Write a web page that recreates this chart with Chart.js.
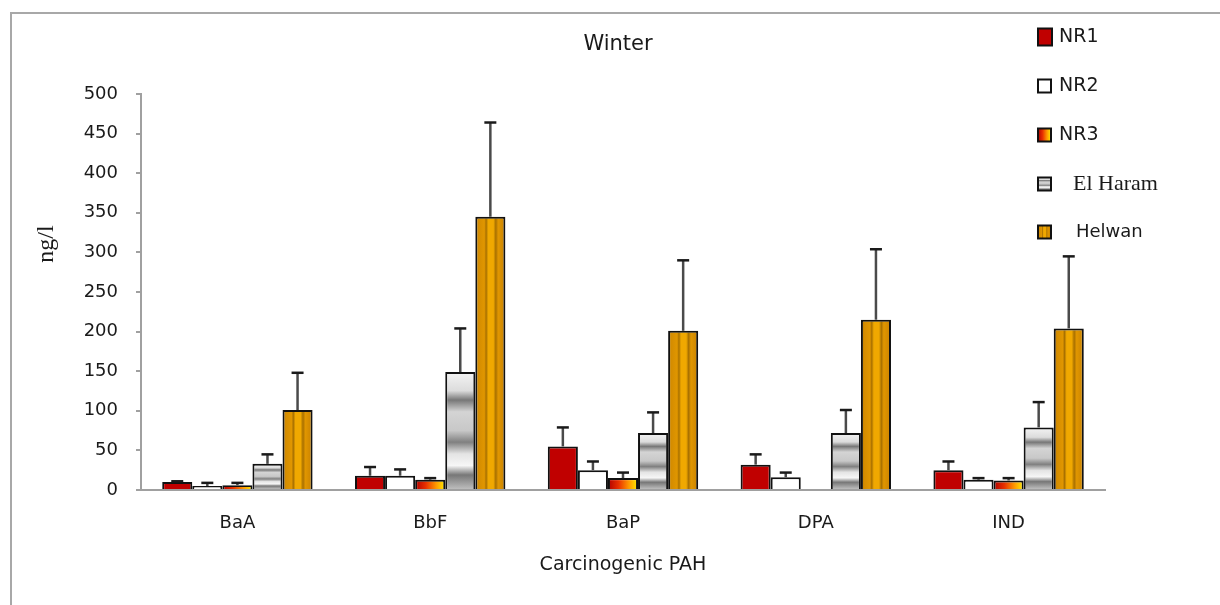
<!DOCTYPE html>
<html>
<head>
<meta charset="utf-8">
<title>Winter - Carcinogenic PAH</title>
<script src="https://cdn.jsdelivr.net/npm/chart.js@4.4.1/dist/chart.umd.min.js"></script>
<style>
  html, body { margin: 0; padding: 0; background: #fff; }
  #wrap { position: relative; width: 1220px; height: 605px; }
</style>
</head>
<body>
<div id="wrap"><canvas id="pahChart" width="1220" height="605"></canvas></div>
<script>
// categories and site names
const categories = ['BaA', 'BbF', 'BaP', 'DPA', 'IND'];
const siteNames = ['NR1', 'NR2', 'NR3', 'El Haram', 'Helwan'];

// mean concentrations (ng/l)
const nr1 = [10, 18, 55, 32, 25];
const nr2 = [5, 18, 25, 16, 13];
const nr3 = [6, 13, 15, 0, 12];
const elHaram = [33, 149, 72, 72, 79];
const helwan = [101, 345, 201, 215, 204];

// upper error bar (standard deviation)
const nr1Err = [1, 11, 24, 13, 11];
const nr2Err = [4, 8, 11, 6, 2];
const nr3Err = [3, 2, 7, 0, 3];
const elHaramErr = [12, 55, 26, 29, 32];
const helwanErr = [47, 119, 89, 89, 91];

// y axis ticks
const yTicks = [0, 50, 100, 150, 200, 250, 300, 350, 400, 450, 500];

const seriesValues = [nr1, nr2, nr3, elHaram, helwan];
const seriesErrors = [nr1Err, nr2Err, nr3Err, elHaramErr, helwanErr];

const TEXT = '#1a1a1a';
const SANS = '"DejaVu Sans", sans-serif';

// fill for a bar / legend box of a given series
function seriesFill(ctx, s, x0, x1, yTop, yBase) {
    let g;
    if (s === 0) return '#c00000';
    if (s === 1) return '#ffffff';
    if (s === 2) {
        g = ctx.createLinearGradient(x0, 0, x1, 0);
        g.addColorStop(0, '#b00000');
        g.addColorStop(0.35, '#e83000');
        g.addColorStop(0.7, '#ff9a00');
        g.addColorStop(1, '#ffee00');
        return g;
    }
    if (s === 3) {
        g = ctx.createLinearGradient(0, yTop, 0, yBase);
        g.addColorStop(0, '#f4f4f4');
        g.addColorStop(0.16, '#dcdcdc');
        g.addColorStop(0.24, '#777777');
        g.addColorStop(0.34, '#d4d4d4');
        g.addColorStop(0.5, '#c8c8c8');
        g.addColorStop(0.6, '#808080');
        g.addColorStop(0.7, '#e4e4e4');
        g.addColorStop(0.8, '#f6f6f6');
        g.addColorStop(0.88, '#777777');
        g.addColorStop(1, '#bdbdbd');
        return g;
    }
    g = ctx.createLinearGradient(x0, 0, x1, 0);
    g.addColorStop(0, '#a86c00');
    g.addColorStop(0.1, '#d48c00');
    g.addColorStop(0.3, '#e09600');
    g.addColorStop(0.36, '#a87000');
    g.addColorStop(0.43, '#f0a800');
    g.addColorStop(0.6, '#f0a800');
    g.addColorStop(0.68, '#a87000');
    g.addColorStop(0.76, '#e09600');
    g.addColorStop(0.92, '#d08800');
    g.addColorStop(1, '#a86c00');
    return g;
}

// page frame, title, y title and legend
const decorPlugin = {
    id: 'decor',
    beforeDraw(chart) {
        const c = chart.ctx;
        c.save();
        c.fillStyle = '#fff';
        c.fillRect(0, 0, chart.width, chart.height);
        c.strokeStyle = '#a8a8a8';
        c.lineWidth = 2;
        c.beginPath();
        c.moveTo(11, chart.height);
        c.lineTo(11, 13);
        c.lineTo(chart.width, 13);
        c.stroke();
        c.restore();
    },
    afterDraw(chart) {
        const c = chart.ctx;
        c.save();
        c.fillStyle = TEXT;
        c.textAlign = 'center';
        c.textBaseline = 'middle';
        c.font = '21px ' + SANS;
        c.fillText('Winter', 618, 45);

        c.save();
        c.translate(47, 244);
        c.rotate(-Math.PI / 2);
        c.font = '24px "Liberation Serif", serif';
        c.fillText('ng/l', 0, 0);
        c.restore();

        // legend
        const ys = [37, 86, 135, 184, 232];
        c.textAlign = 'left';
        siteNames.forEach((name, s) => {
            const cy = ys[s];
            const w = s === 0 ? 14 : 13;
            const h = s === 0 ? 17 : 13;
            const x0 = 1038, y0 = cy - h / 2;
            c.fillStyle = seriesFill(c, s, x0, x0 + w, y0, y0 + h);
            c.fillRect(x0, y0, w, h);
            c.strokeStyle = '#111';
            c.lineWidth = 2;
            c.strokeRect(x0, y0, w, h);
            c.fillStyle = TEXT;
            if (s === 3) {
                c.font = '22px "Liberation Serif", serif';
                c.fillText(name, 1073, cy);
            } else if (s === 4) {
                c.font = '18px ' + SANS;
                c.fillText(name, 1076, cy);
            } else {
                c.font = '19px ' + SANS;
                c.fillText(name, 1059, cy);
            }
        });
        c.restore();
    }
};

// gradient / striped fills, computed from each bar's own box
const fillPlugin = {
    id: 'barFills',
    beforeDatasetsDraw(chart) {
        const c = chart.ctx;
        chart.data.datasets.forEach((ds, s) => {
            chart.getDatasetMeta(s).data.forEach(el => {
                const x0 = el.x - el.width / 2;
                el.options.backgroundColor = seriesFill(c, s, x0, x0 + el.width, el.y, el.base);
            });
        });
    }
};

// upper error bars
const errorPlugin = {
    id: 'errorBars',
    afterDatasetsDraw(chart) {
        const c = chart.ctx;
        const yScale = chart.scales.y;
        c.save();
        chart.data.datasets.forEach((ds, s) => {
            chart.getDatasetMeta(s).data.forEach((el, j) => {
                const err = seriesErrors[s][j];
                if (!err) return;
                const yTop = yScale.getPixelForValue(seriesValues[s][j] + err);
                c.strokeStyle = '#4a4a4a';
                c.lineWidth = 2.5;
                c.beginPath();
                c.moveTo(el.x, el.y);
                c.lineTo(el.x, yTop);
                c.stroke();
                c.strokeStyle = '#1a1a1a';
                c.lineWidth = 2.5;
                c.beginPath();
                c.moveTo(el.x - 6, yTop);
                c.lineTo(el.x + 6, yTop);
                c.stroke();
            });
        });
        c.restore();
    }
};

const datasets = siteNames.map((name, s) => ({
    label: name,
    data: seriesValues[s],
    backgroundColor: () => '#ccc',
    borderColor: '#111',
    borderWidth: 2,
    categoryPercentage: 0.78,
    barPercentage: 1.0
}));

new Chart(document.getElementById('pahChart'), {
    type: 'bar',
    data: { labels: categories, datasets: datasets },
    options: {
        responsive: false,
        devicePixelRatio: 1,
        animation: false,
        layout: { padding: { left: 20, right: 115, top: 94, bottom: 0 } },
        plugins: {
            legend: { display: false },
            title: { display: false },
            tooltip: { enabled: false }
        },
        scales: {
            x: {
                grid: { display: false, drawTicks: false },
                border: { display: true, color: '#a0a0a0', width: 2 },
                ticks: { color: TEXT, font: { family: SANS, size: 18 }, padding: 23 },
                title: {
                    display: true,
                    text: 'Carcinogenic PAH',
                    color: TEXT,
                    font: { family: SANS, size: 19 },
                    padding: { top: 0, bottom: 29 }
                },
                afterFit(scale) { scale.height = 115; }
            },
            y: {
                min: 0,
                max: 500,
                afterBuildTicks(scale) { scale.ticks = yTicks.map(v => ({ value: v })); },
                grid: { display: true, drawOnChartArea: false, drawTicks: true, tickLength: 5, color: '#a0a0a0', lineWidth: 2 },
                border: { display: true, color: '#a0a0a0', width: 2 },
                ticks: { color: TEXT, font: { family: SANS, size: 18 }, padding: 18 },
                afterFit(scale) { scale.width = 121; }
            }
        }
    },
    plugins: [decorPlugin, fillPlugin, errorPlugin]
});
</script>
</body>
</html>
